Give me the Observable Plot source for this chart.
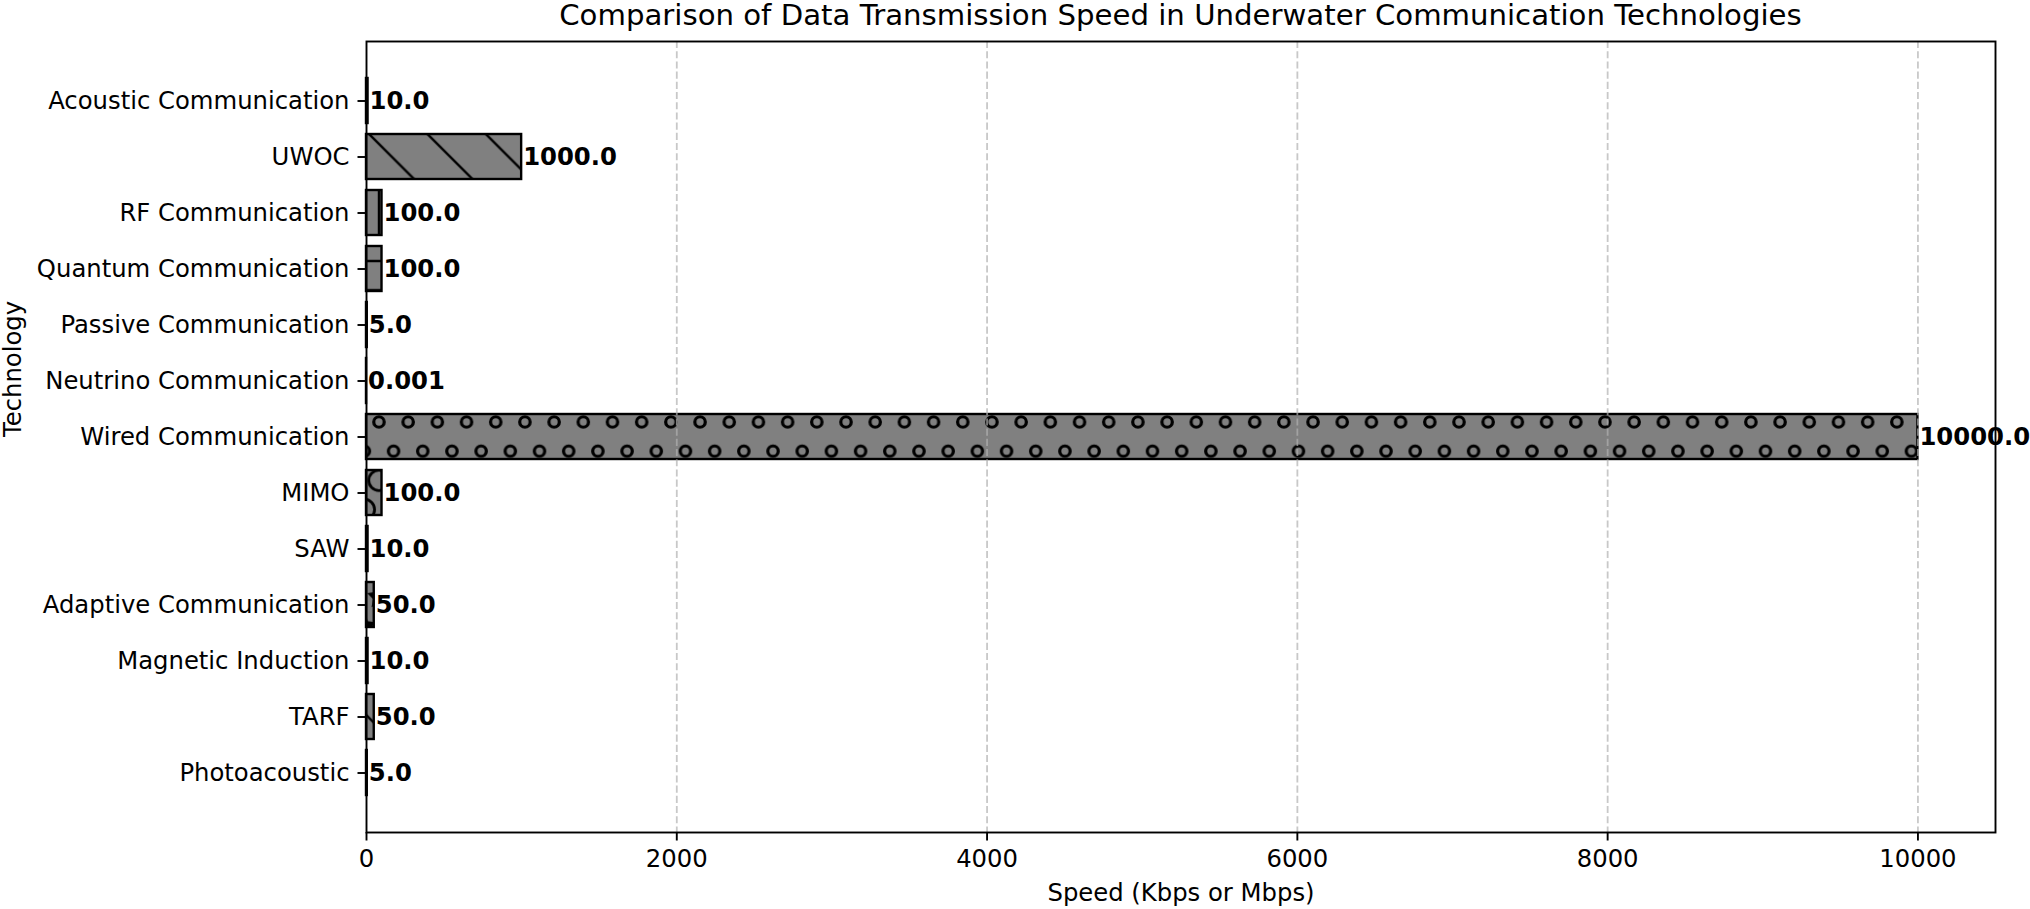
<!DOCTYPE html>
<html><head><meta charset="utf-8">
<script src="https://cdn.jsdelivr.net/npm/d3@7"></script>
<script src="https://cdn.jsdelivr.net/npm/@observablehq/plot@0.6"></script>
<style>
body{margin:0;background:#fff;font-family:"DejaVu Sans",sans-serif;}
#title{height:31px;line-height:31px;font-size:29.2px;text-align:center;padding-left:366px;padding-right:35px;width:1629px;color:#000;white-space:nowrap;}
</style></head><body>
<div id="title">Comparison of Data Transmission Speed in Underwater Communication Technologies</div>
<div id="chart"></div>
<script>
const technologies = ["Acoustic Communication","UWOC","RF Communication","Quantum Communication","Passive Communication","Neutrino Communication","Wired Communication","MIMO","SAW","Adaptive Communication","Magnetic Induction","TARF","Photoacoustic"];
const speeds = [10, 1000, 100, 100, 5, 0.001, 10000, 100, 10, 50, 10, 50, 5];
const hatches = ["fslash","bslash","vert","horiz","plus","cross","o","O","dot","star","fslash","bslash","vert"];
const xTicks = [0, 2000, 4000, 6000, 8000, 10000];
const gridTicks = [2000, 4000, 6000, 8000, 10000];
const xDomain = [0, 10500];

const data = technologies.map((t, i) => ({tech: t, speed: speeds[i], hatch: hatches[i]}));
const fmt = v => Number.isInteger(v) ? v.toFixed(1) : String(v);
const hatchKeys = Array.from(new Set(hatches));

const marks = [
  Plot.barX(data, {x: "speed", y: "tech", fill: "#808080"}),
  ...hatchKeys.map(k => Plot.barX(data.filter(d => d.hatch === k), {x: "speed", y: "tech", fill: `url(#h-${k})`})),
  Plot.barX(data, {x: "speed", y: "tech", fill: "none", stroke: "black", strokeWidth: 2.4}),
  Plot.gridX(gridTicks, {stroke: "#b0b0b0", strokeOpacity: 0.7, strokeWidth: 1.8, strokeDasharray: "7.1,3.1"}),
  Plot.frame({stroke: "black", strokeWidth: 1.9}),
  Plot.axisX(xTicks, {tickSize: 8.5, tickPadding: 8.5, fontSize: 24.3, label: null, tickFormat: d => String(d), strokeWidth: 1.9}),
  Plot.axisY({tickSize: 8.5, tickPadding: 8.5, fontSize: 24.3, label: null, strokeWidth: 1.9}),
  Plot.text(data, {x: "speed", y: "tech", text: d => fmt(d.speed), textAnchor: "start", dx: 1.5, fontWeight: "bold", fontSize: 24.3, fill: "black"}),
  Plot.text(["Speed (Kbps or Mbps)"], {frameAnchor: "bottom", dy: 61, fontSize: 24.3, fill: "black", lineAnchor: "middle"}),
  Plot.text(["Technology"], {frameAnchor: "left", dx: -353, rotate: -90, fontSize: 24.3, fill: "black", lineAnchor: "middle"})
];

const svg = Plot.plot({
  width: 2030,
  height: 878,
  marginTop: 10,
  marginBottom: 77,
  marginLeft: 366,
  marginRight: 35,
  style: {fontFamily: "DejaVu Sans", fontSize: "24px", background: "white", color: "black", overflow: "visible"},
  x: {domain: xDomain, axis: null},
  y: {type: "band", domain: technologies, paddingInner: 0.2, paddingOuter: 0.64, align: 0.5, axis: null},
  marks
});

// hatch patterns (SVG-local coordinates)
const defs = d3.select(svg).insert("defs", ":first-child");
const S = 29.19, L = 58.38, HW = 2.4;
function pat(id, w, h, x, y) {
  return defs.append("pattern").attr("id", id).attr("patternUnits", "userSpaceOnUse")
    .attr("width", w).attr("height", h).attr("x", x).attr("y", y);
}
// backslash
pat("h-bslash", L, L, 32.5, 0).append("path")
  .attr("d", `M0,0L${L},${L}M-6,${L-6}L6,${L+6}M${L-6},-6L${L+6},6`)
  .attr("stroke", "black").attr("stroke-width", HW).attr("fill", "none");
// forward slash
pat("h-fslash", L, L, 10, 0).append("path")
  .attr("d", `M0,${L}L${L},0M-6,6L6,-6M${L-6},${L+6}L${L+6},${L-6}`)
  .attr("stroke", "black").attr("stroke-width", HW).attr("fill", "none");
// cross
pat("h-cross", L, L, 10, 0).append("path")
  .attr("d", `M0,${L}L${L},0M-6,6L6,-6M${L-6},${L+6}L${L+6},${L-6}M0,0L${L},${L}M-6,${L-6}L6,${L+6}M${L-6},-6L${L+6},6`)
  .attr("stroke", "black").attr("stroke-width", HW).attr("fill", "none");
// vertical
pat("h-vert", S, S, 14.1, 0).append("path")
  .attr("d", `M${S/2},-1L${S/2},${S+1}`)
  .attr("stroke", "black").attr("stroke-width", HW).attr("fill", "none");
// horizontal
pat("h-horiz", S, S, 0, 11.1).append("path")
  .attr("d", `M-1,${S/2}L${S+1},${S/2}`)
  .attr("stroke", "black").attr("stroke-width", HW).attr("fill", "none");
// plus
pat("h-plus", S, S, 14.1, 11.1).append("path")
  .attr("d", `M${S/2},-1L${S/2},${S+1}M-1,${S/2}L${S+1},${S/2}`)
  .attr("stroke", "black").attr("stroke-width", HW).attr("fill", "none");
// lattice shapes
const pts = [[0,0],[S,0],[0,L],[S,L],[S/2,S]];
function latt(id, draw) {
  const p = pat(id, S, L, 28.7, 40.7);
  pts.forEach(([cx, cy]) => draw(p, cx, cy));
}
latt("h-o", (p, cx, cy) => p.append("circle").attr("cx", cx).attr("cy", cy).attr("r", 5.2)
  .attr("fill", "none").attr("stroke", "black").attr("stroke-width", 3.2));
latt("h-O", (p, cx, cy) => p.append("circle").attr("cx", cx).attr("cy", cy).attr("r", 0.35*S)
  .attr("fill", "none").attr("stroke", "black").attr("stroke-width", 2.8));
latt("h-dot", (p, cx, cy) => p.append("circle").attr("cx", cx).attr("cy", cy).attr("r", 0.1*S)
  .attr("fill", "black").attr("stroke", "black").attr("stroke-width", HW));
function starPath(cx, cy, R, r) {
  let d = "";
  for (let i = 0; i < 10; i++) {
    const a = -Math.PI/2 + i*Math.PI/5;
    const rr = i % 2 ? r : R;
    d += (i ? "L" : "M") + (cx + rr*Math.cos(a)).toFixed(2) + "," + (cy + rr*Math.sin(a)).toFixed(2);
  }
  return d + "Z";
}
latt("h-star", (p, cx, cy) => p.append("path").attr("d", starPath(cx, cy, S/3, S/6))
  .attr("fill", "black").attr("stroke", "black").attr("stroke-width", HW));

document.getElementById("chart").appendChild(svg);
</script>
</body></html>
